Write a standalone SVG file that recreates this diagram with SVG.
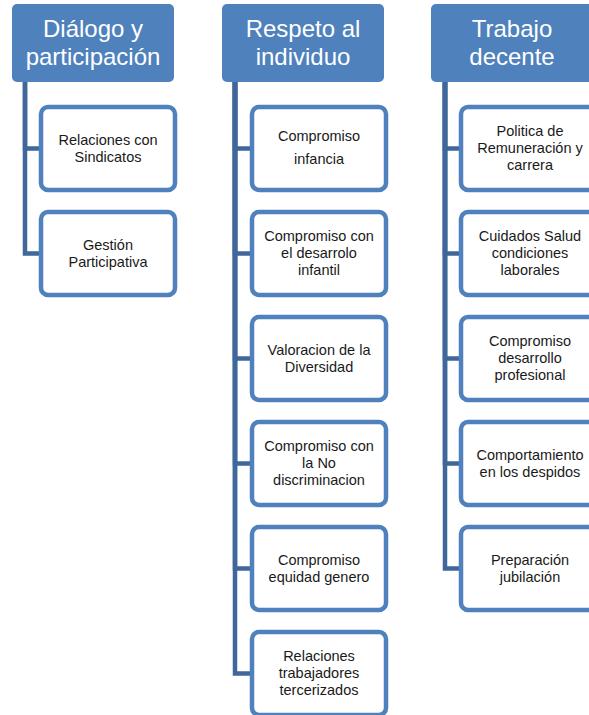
<svg xmlns="http://www.w3.org/2000/svg" width="589" height="715" viewBox="0 0 589 715">
<style>
.hdr rect{fill:#4F81BD;}
.hdr text{fill:#FFFFFF;font-family:"Liberation Sans",Arial,sans-serif;font-size:24px;text-anchor:middle;}
.box rect{fill:#FFFFFF;stroke:#4F81BD;stroke-width:4.5;}
.box text{fill:#1A1A1A;font-family:"Liberation Sans",Arial,sans-serif;font-size:14.5px;text-anchor:middle;}
.conn path{fill:none;stroke:#3F679A;stroke-width:4.5;stroke-linejoin:miter;}
</style>
<rect width="589" height="715" fill="#FFFFFF"/>
<g class="conn" id="connectors">
<path d="M25,82 V148.5 H41"/>
<path d="M25,82 V253.5 H41"/>
<path d="M235,82 V148.5 H252"/>
<path d="M235,82 V253.5 H252"/>
<path d="M235,82 V358.5 H252"/>
<path d="M235,82 V463.5 H252"/>
<path d="M235,82 V568.5 H252"/>
<path d="M235,82 V673.5 H252"/>
<path d="M445,82 V148.5 H461"/>
<path d="M445,82 V253.5 H461"/>
<path d="M445,82 V358.5 H461"/>
<path d="M445,82 V463.5 H461"/>
<path d="M445,82 V568.5 H461"/>
</g>
<g class="hdr" id="h1"><rect x="12" y="4" width="162" height="78" rx="5"/><text x="93"><tspan x="93" y="37">Diálogo y</tspan><tspan x="93" y="65">participación</tspan></text></g>
<g class="hdr" id="h2"><rect x="222" y="4" width="162" height="78" rx="5"/><text x="303"><tspan x="303" y="37">Respeto al</tspan><tspan x="303" y="65">individuo</tspan></text></g>
<g class="hdr" id="h3"><rect x="431" y="4" width="162" height="78" rx="5"/><text x="512"><tspan x="512" y="37">Trabajo</tspan><tspan x="512" y="65">decente</tspan></text></g>

<g class="box" id="c1b1"><rect x="41" y="107" width="134" height="83" rx="7"/><text><tspan x="108" y="145">Relaciones con</tspan><tspan x="108" y="162">Sindicatos</tspan></text></g>
<g class="box" id="c1b2"><rect x="41" y="212" width="134" height="83" rx="7"/><text><tspan x="108" y="250">Gestión</tspan><tspan x="108" y="267">Participativa</tspan></text></g>

<g class="box" id="c2b1"><rect x="252" y="107" width="134" height="83" rx="7"/><text><tspan x="319" y="141">Compromiso</tspan><tspan x="319" y="164">infancia</tspan></text></g>
<g class="box" id="c2b2"><rect x="252" y="212" width="134" height="83" rx="7"/><text><tspan x="319" y="241">Compromiso con</tspan><tspan x="319" y="258">el desarrolo</tspan><tspan x="319" y="275">infantil</tspan></text></g>
<g class="box" id="c2b3"><rect x="252" y="317" width="134" height="83" rx="7"/><text><tspan x="319" y="355">Valoracion de la</tspan><tspan x="319" y="372">Diversidad</tspan></text></g>
<g class="box" id="c2b4"><rect x="252" y="422" width="134" height="83" rx="7"/><text><tspan x="319" y="451">Compromiso con</tspan><tspan x="319" y="468">la No</tspan><tspan x="319" y="485">discriminacion</tspan></text></g>
<g class="box" id="c2b5"><rect x="252" y="527" width="134" height="83" rx="7"/><text><tspan x="319" y="565">Compromiso</tspan><tspan x="319" y="582">equidad genero</tspan></text></g>
<g class="box" id="c2b6"><rect x="252" y="632" width="134" height="83" rx="7"/><text><tspan x="319" y="661">Relaciones</tspan><tspan x="319" y="678">trabajadores</tspan><tspan x="319" y="695">tercerizados</tspan></text></g>

<g class="box" id="c3b1"><rect x="461" y="107" width="134" height="83" rx="7"/><text><tspan x="530" y="136">Politica de</tspan><tspan x="530" y="153">Remuneración y</tspan><tspan x="530" y="170">carrera</tspan></text></g>
<g class="box" id="c3b2"><rect x="461" y="212" width="134" height="83" rx="7"/><text><tspan x="530" y="241">Cuidados Salud</tspan><tspan x="530" y="258">condiciones</tspan><tspan x="530" y="275">laborales</tspan></text></g>
<g class="box" id="c3b3"><rect x="461" y="317" width="134" height="83" rx="7"/><text><tspan x="530" y="346">Compromiso</tspan><tspan x="530" y="363">desarrollo</tspan><tspan x="530" y="380">profesional</tspan></text></g>
<g class="box" id="c3b4"><rect x="461" y="422" width="134" height="83" rx="7"/><text><tspan x="530" y="460">Comportamiento</tspan><tspan x="530" y="477">en los despidos</tspan></text></g>
<g class="box" id="c3b5"><rect x="461" y="527" width="134" height="83" rx="7"/><text><tspan x="530" y="565">Preparación</tspan><tspan x="530" y="582">jubilación</tspan></text></g>
</svg>
